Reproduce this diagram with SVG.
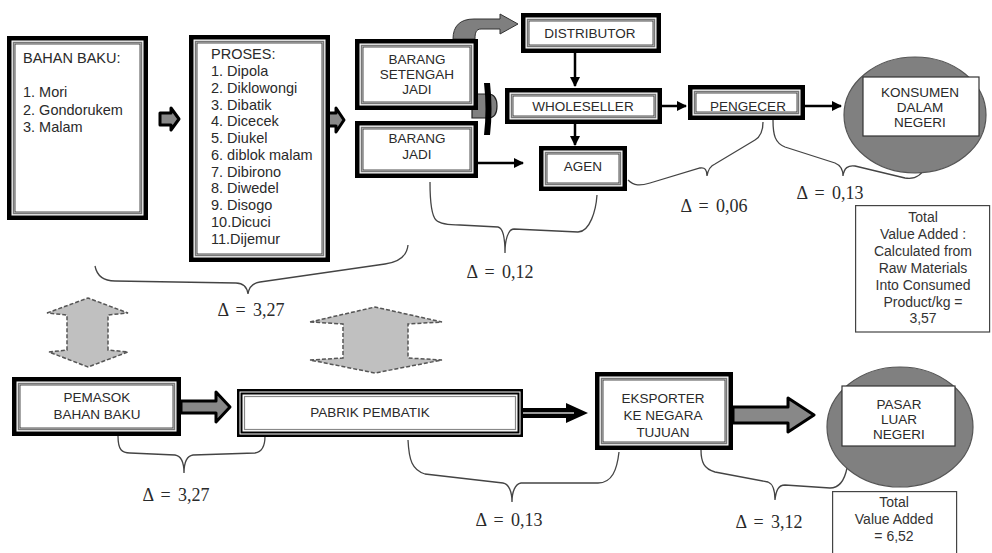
<svg xmlns="http://www.w3.org/2000/svg" width="992" height="553" viewBox="0 0 992 553">
<defs>
<style>
.o{fill:#fff;stroke:#000;stroke-width:4.5}
.i1{fill:none;stroke:#777;stroke-width:1.5}
.i2{fill:none;stroke:#222;stroke-width:0.8}
.t{font-family:"Liberation Sans",Arial,sans-serif;font-size:13.5px;fill:#2a2a2a;text-anchor:middle}
.l{font-family:"Liberation Sans",Arial,sans-serif;font-size:14.5px;fill:#2a2a2a}
.v{font-family:"Liberation Sans",Arial,sans-serif;font-size:14px;fill:#333;text-anchor:middle}
.d{font-family:"Liberation Serif","Times New Roman",serif;font-size:18px;fill:#2a2a2a;text-anchor:middle;word-spacing:3px}
.br{fill:none;stroke:#444;stroke-width:1.3}
.ln{fill:none;stroke:#000;stroke-width:2.5}
.fat{fill:#888;stroke:#000;stroke-width:3;stroke-linejoin:round}
.dash{fill:#c0c0c0;stroke:#555;stroke-width:1.5;stroke-dasharray:4 2}
.circ{fill:#808080;stroke:#555;stroke-width:1.2}
.tot{fill:#fff;stroke:#444;stroke-width:1.2}
</style>
<marker id="ah" viewBox="0 0 10 10" refX="9" refY="5" markerWidth="4" markerHeight="4" orient="auto" markerUnits="strokeWidth">
<path d="M0,0 L10,5 L0,10 Z" fill="#000"/>
</marker>
</defs>

<g id="connectors">
<path class="fat" d="M160,113 H171 V108 L179,119 L171,130 V125 H160 Z" stroke-width="2.5"/>
<path class="fat" d="M325,113 H336 V108 L344,120 L336,132 V126 H325 Z" stroke-width="2.5"/>
<path d="M453,39 C453,26 460,19 474,19 L500,19 L500,14 L518,24 L500,34 L500,29 L481,29 C476,29 475,33 475,39 Z" fill="#7f7f7f" stroke="#333" stroke-width="1"/>
<path d="M472,94 H488 Q497,94 497,106 Q497,118 488,118 H472 Z" fill="#808080" stroke="#222" stroke-width="1.2"/>
<path d="M484,83 Q487,109 484,135 L490,135 Q493,109 490,83 Z" fill="#000"/>
<line class="ln" x1="575" y1="53" x2="575" y2="86" marker-end="url(#ah)"/>
<line class="ln" x1="575" y1="124" x2="575" y2="145" marker-end="url(#ah)"/>
<line class="ln" x1="478" y1="163" x2="523" y2="163" marker-end="url(#ah)"/>
<line class="ln" x1="662" y1="106" x2="686" y2="106" stroke-width="3" marker-end="url(#ah)"/>
<line class="ln" x1="805" y1="106" x2="841" y2="106" stroke-width="3.5" marker-end="url(#ah)"/>
<path class="fat" d="M181,401 H216 V392 L230,407 L216,422 V413 H181 Z"/>
<path d="M523,408 H566 V403 L588,413 L566,423 V418 H523 Z" fill="#000"/>
<line x1="523" y1="413" x2="574" y2="413" stroke="#999" stroke-width="2"/>
<path class="fat" d="M733,407 H788 V398 L814,415 L788,432 V423 H733 Z"/>
<path class="dash" d="M47,313 L88,298 L128,313 L108,315 L108,350 L128,352 L88,367 L49,352 L67,350 L67,315 Z"/>
<path class="dash" d="M310,322 L375,307 L442,322 L408,324 L408,358 L442,360 L375,373 L310,360 L343,358 L343,324 Z"/>
<path class="br" d="M95,266 C97,276 103,281 115,281 L236,283 C243,283 247,287 248,294 C249,287 253,283 260,282 L385,264 C400,262 407,255 408,245"/>
<path class="br" d="M430,182 C430,200 431,215 436,220 C440,224 450,225 460,225 L498,227 C503,228 505,240 505,253 C505,240 508,229 514,229 L578,232 C590,232 596,210 597,195"/>
<path class="br" d="M628,180 C634,186 640,186 650,183 L700,168 C705,167 707,170 707,176 C708,170 710,166 715,164 L755,140 C760,137 763,132 763,122"/>
<path class="br" d="M773,120 C773,135 775,143 785,147 L835,163 C840,165 843,170 843,176 C844,168 848,165 855,166 L905,178 C915,180 922,175 927,165"/>
<path class="br" d="M118,436 C118,450 122,453 130,453 L175,455 C181,456 184,462 184,473 C184,462 187,456 193,455 L255,453 C262,452 265,446 265,436"/>
<path class="br" d="M408,440 C409,460 412,470 425,474 L503,483 C509,484 512,492 512,502 C512,492 515,484 521,483 L598,483 C612,483 617,470 619,452"/>
<path class="br" d="M701,450 C701,462 704,469 715,472 L768,482 C773,484 775,491 775,500 C776,491 778,485 785,485 L830,488 C840,488 845,478 847,468"/>
</g>

<g id="labels">
<text class="d" x="251" y="316">Δ = 3,27</text>
<text class="d" x="500" y="278">Δ = 0,12</text>
<text class="d" x="714" y="212">Δ = 0,06</text>
<text class="d" x="830" y="199">Δ = 0,13</text>
<text class="d" x="176" y="501">Δ = 3,27</text>
<text class="d" x="509" y="526">Δ = 0,13</text>
<text class="d" x="769" y="528">Δ = 3,12</text>
</g>

<g id="bahan-baku">
<rect class="o" x="9.25" y="38.25" width="136.5" height="179.5"/>
<rect class="i1" x="13.5" y="42.5" width="128" height="171"/>
<rect class="i2" x="15" y="44" width="125" height="168"/>
<text class="l" x="23" y="63">BAHAN BAKU:</text>
<text class="l" x="23" y="97">1. Mori</text>
<text class="l" x="23" y="114.5">2. Gondorukem</text>
<text class="l" x="23" y="132">3. Malam</text>
</g>

<g id="proses">
<rect class="o" x="191.25" y="37.25" width="136.5" height="222.5"/>
<rect class="i1" x="195.5" y="41.5" width="128" height="214"/>
<rect class="i2" x="197" y="43" width="125" height="211"/>
<text class="l" x="211" y="59">PROSES:</text>
<text class="l" x="211" y="76">1. Dipola</text>
<text class="l" x="211" y="92.7">2. Diklowongi</text>
<text class="l" x="211" y="109.5">3. Dibatik</text>
<text class="l" x="211" y="126.3">4. Dicecek</text>
<text class="l" x="211" y="143">5. Diukel</text>
<text class="l" x="211" y="159.8">6. diblok malam</text>
<text class="l" x="211" y="176.6">7. Dibirono</text>
<text class="l" x="211" y="193.4">8. Diwedel</text>
<text class="l" x="211" y="210.2">9. Disogo</text>
<text class="l" x="211" y="227">10.Dicuci</text>
<text class="l" x="211" y="243.8">11.Dijemur</text>
</g>

<g id="barang-setengah-jadi">
<rect class="o" x="357.25" y="41.25" width="118.5" height="66.5"/>
<rect class="i1" x="361.5" y="45.5" width="110" height="58"/>
<rect class="i2" x="363" y="47" width="107" height="55"/>
<text class="t" x="417" y="64">BARANG</text>
<text class="t" x="417" y="79">SETENGAH</text>
<text class="t" x="417" y="94">JADI</text>
</g>

<g id="barang-jadi">
<rect class="o" x="357.25" y="123.25" width="118.5" height="52.5"/>
<rect class="i1" x="361.5" y="127.5" width="110" height="44"/>
<rect class="i2" x="363" y="129" width="107" height="41"/>
<text class="t" x="417" y="143">BARANG</text>
<text class="t" x="417" y="159">JADI</text>
</g>

<g id="distributor">
<rect class="o" x="523.25" y="15.25" width="135.5" height="35.5"/>
<rect class="i1" x="527.5" y="19.5" width="127" height="27"/>
<rect class="i2" x="529" y="21" width="124" height="24"/>
<text class="t" x="590" y="38">DISTRIBUTOR</text>
</g>

<g id="wholeseller">
<rect class="o" x="507.25" y="90.25" width="152.5" height="31.5"/>
<rect class="i1" x="511.5" y="94.5" width="144" height="23"/>
<rect class="i2" x="513" y="96" width="141" height="20"/>
<text class="t" x="583" y="111">WHOLESELLER</text>
</g>

<g id="agen">
<rect class="o" x="541.25" y="148.25" width="83.5" height="40.5"/>
<rect class="i1" x="545.5" y="152.5" width="75" height="32"/>
<rect class="i2" x="547" y="154" width="72" height="29"/>
<text class="t" x="583" y="171">AGEN</text>
</g>

<g id="pengecer">
<rect class="o" x="690.25" y="87.25" width="112.5" height="30.5"/>
<rect class="i1" x="694.5" y="91.5" width="104" height="22"/>
<rect class="i2" x="696" y="93" width="101" height="19"/>
<text class="t" x="748" y="111">PENGECER</text>
</g>

<g id="konsumen">
<ellipse class="circ" cx="915" cy="115" rx="71" ry="58"/>
<rect x="863" y="77" width="116" height="59" fill="#fff" stroke="#333" stroke-width="1.2"/>
<text class="t" x="920" y="97">KONSUMEN</text>
<text class="t" x="920" y="112">DALAM</text>
<text class="t" x="920" y="127">NEGERI</text>
</g>

<g id="total-1">
<rect class="tot" x="855.6" y="205.6" width="134" height="126.4"/>
<text class="v" x="923" y="222">Total</text>
<text class="v" x="923" y="239">Value Added :</text>
<text class="v" x="923" y="256">Calculated from</text>
<text class="v" x="923" y="273">Raw Materials</text>
<text class="v" x="923" y="290">Into Consumed</text>
<text class="v" x="923" y="307">Product/kg =</text>
<text class="v" x="923" y="323">3,57</text>
</g>

<g id="pemasok">
<rect class="o" x="14.25" y="379.25" width="164.5" height="54.5"/>
<rect class="i1" x="18.5" y="383.5" width="156" height="46"/>
<rect class="i2" x="20" y="385" width="153" height="43"/>
<text class="t" x="97" y="402">PEMASOK</text>
<text class="t" x="97" y="419">BAHAN BAKU</text>
</g>

<g id="pabrik">
<rect x="238.25" y="390.25" width="283.5" height="45.5" fill="#fff" stroke="#000" stroke-width="2.5"/>
<rect x="241.5" y="393.5" width="277" height="39" fill="none" stroke="#000" stroke-width="2"/>
<rect x="244.5" y="396.5" width="271" height="33" fill="none" stroke="#888" stroke-width="1.2"/>
<text class="t" x="370" y="417">PABRIK PEMBATIK</text>
</g>

<g id="eksporter">
<rect class="o" x="597.25" y="374.25" width="133.5" height="73.5"/>
<rect class="i1" x="601.5" y="378.5" width="125" height="65"/>
<rect class="i2" x="603" y="380" width="122" height="62"/>
<text class="t" x="663" y="403">EKSPORTER</text>
<text class="t" x="663" y="420">KE NEGARA</text>
<text class="t" x="663" y="437">TUJUAN</text>
</g>

<g id="pasar">
<ellipse class="circ" cx="900" cy="427" rx="73" ry="60"/>
<rect x="842" y="386" width="113" height="60" fill="#fff" stroke="#333" stroke-width="1.2"/>
<text class="t" x="899" y="409">PASAR</text>
<text class="t" x="899" y="424">LUAR</text>
<text class="t" x="899" y="439">NEGERI</text>
</g>

<g id="total-2">
<rect class="tot" x="832.6" y="491.6" width="124" height="63"/>
<text class="v" x="894" y="507">Total</text>
<text class="v" x="894" y="524">Value Added</text>
<text class="v" x="894" y="541">= 6,52</text>
</g>
</svg>
